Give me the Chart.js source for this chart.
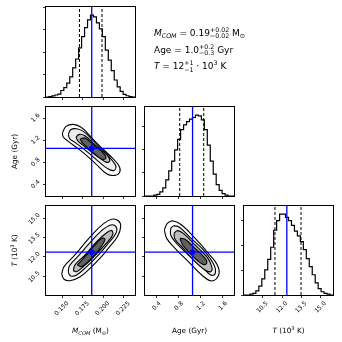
<!DOCTYPE html>
<html>
<head>
<meta charset="utf-8">
<script src="https://cdn.jsdelivr.net/npm/chart.js@4.4.1/dist/chart.umd.min.js"></script>
<style>
  html, body { margin: 0; background: #fff; }
  #wrap { position: relative; width: 342px; height: 342px; }
  #wrap canvas { position: absolute; left: 0; top: 0; }
</style>
</head>
<body>
<div id="wrap">
  <canvas id="h0" width="342" height="342"></canvas>
  <canvas id="ma" width="342" height="342"></canvas>
  <canvas id="h1" width="342" height="342"></canvas>
  <canvas id="mt" width="342" height="342"></canvas>
  <canvas id="at" width="342" height="342"></canvas>
  <canvas id="h2" width="342" height="342"></canvas>
</div>
<script>
// axis ranges
const massRange = [0.130, 0.239];
const ageRange = [0.19, 1.80];
const tempRange = [9.05, 15.95];

// tick values / labels
const massTicks = [0.150, 0.175, 0.200, 0.225];
const massTickLabels = ['0.150', '0.175', '0.200', '0.225'];
const ageTicks = [0.4, 0.8, 1.2, 1.6];
const ageTickLabels = ['0.4', '0.8', '1.2', '1.6'];
const tempTicks = [10.5, 12.0, 13.5, 15.0];
const tempTickLabels = ['10.5', '12.0', '13.5', '15.0'];
const countTicks = [0, 1000, 2000, 3000, 4000];

// 1D histograms (30 bins over the axis range)
const massCounts = [0, 15, 50, 90, 130, 290, 420, 620, 900, 1300, 1700, 2200, 2700, 3100, 3450,
  3660, 3580, 3320, 3050, 2700, 2100, 1650, 1180, 760, 450, 250, 120, 55, 20, 0];
const ageCounts = [0, 0, 0, 35, 69, 174, 347, 694, 1076, 1492, 1978, 2429, 2845, 3054, 3192,
  3297, 3366, 3470, 3435, 3262, 2845, 2186, 1492, 937, 486, 243, 104, 35, 0, 0];
const tempCounts = [0, 0, 32, 65, 162, 356, 648, 1004, 1426, 1912, 2592, 2981, 3240, 3240, 3110,
  2981, 2786, 2560, 2365, 2138, 1814, 1458, 1134, 810, 486, 259, 130, 65, 32, 0];

// 16% / 84% quantiles and true values
const massQuantiles = [0.171, 0.1986];
const ageQuantiles = [0.818, 1.252];
const tempQuantiles = [11.45, 13.47];
const massTruth = 0.186;
const ageTruth = 1.05;
const tempTruth = 12.37;

// 2D contours, outer to inner
const massAgeContours = [
  [[0.150,1.329],[0.1545,1.449],[0.1635,1.486],[0.1725,1.437],[0.1818,1.311],[0.194,1.118],[0.2084,0.918],[0.2186,0.756],[0.2206,0.635],[0.2145,0.563],[0.2043,0.593],[0.190,0.786],[0.1737,0.997],[0.1573,1.178],[0.1512,1.257]],
  [[0.1573,1.299],[0.1602,1.389],[0.1675,1.407],[0.1757,1.359],[0.1859,1.22],[0.1981,1.039],[0.2104,0.846],[0.2157,0.725],[0.2132,0.653],[0.2063,0.677],[0.1941,0.816],[0.1798,0.997],[0.1655,1.16],[0.1594,1.22]],
  [[0.1667,1.256],[0.1708,1.305],[0.1777,1.280],[0.19,1.118],[0.2043,0.937],[0.2083,0.834],[0.2043,0.798],[0.1941,0.894],[0.1798,1.057],[0.1696,1.178]],
  [[0.1716,1.22],[0.1777,1.238],[0.1879,1.118],[0.2002,0.967],[0.2034,0.876],[0.1981,0.858],[0.1859,0.997],[0.1749,1.148]]
];
const massTempContours = [
  [[0.1492,10.68],[0.1521,11.25],[0.1635,12.02],[0.1757,12.93],[0.188,13.83],[0.2002,14.56],[0.2104,14.92],[0.2186,14.81],[0.2215,14.35],[0.2174,13.57],[0.2063,12.67],[0.1962,11.9],[0.1839,11.12],[0.1708,10.42],[0.1594,10.16],[0.1521,10.27]],
  [[0.1573,10.78],[0.1586,11.30],[0.1696,12.08],[0.1839,13.11],[0.1981,14.04],[0.2092,14.48],[0.2157,14.35],[0.2157,13.83],[0.2063,13.06],[0.1941,12.15],[0.1798,11.25],[0.1675,10.60],[0.1602,10.53]],
  [[0.1635,10.94],[0.1655,11.38],[0.1777,12.15],[0.1920,13.19],[0.2043,13.88],[0.2104,14.04],[0.2116,13.70],[0.2022,12.93],[0.1879,11.97],[0.1757,11.25],[0.1675,10.86]],
  [[0.1684,11.38],[0.1777,12.02],[0.19,12.93],[0.1981,13.44],[0.2022,13.37],[0.1961,12.67],[0.1839,11.77],[0.1737,11.25]]
];
const ageTempContours = [
  [[0.54,14.09],[0.594,14.61],[0.703,14.79],[0.854,14.48],[1.095,13.45],[1.336,12.28],[1.499,11.38],[1.523,10.6],[1.397,10.14],[1.216,10.6],[0.974,11.64],[0.733,12.67],[0.582,13.44]],
  [[0.655,14.22],[0.703,14.40],[0.811,14.30],[1.004,13.52],[1.246,12.54],[1.439,11.38],[1.457,10.68],[1.379,10.60],[1.216,11.25],[0.944,12.28],[0.733,13.19],[0.655,13.70]],
  [[0.715,13.83],[0.775,14.04],[0.884,13.83],[1.095,12.93],[1.306,12.02],[1.397,11.25],[1.379,10.86],[1.276,10.99],[1.065,11.77],[0.854,12.80],[0.733,13.37]],
  [[0.823,13.44],[0.914,13.37],[1.095,12.67],[1.276,11.90],[1.306,11.51],[1.234,11.43],[1.065,12.02],[0.872,12.93]]
];
const contourFills = [null, '#ececec', '#bcbcbc', '#606060'];

// layout
const W = 342;
const colX = [[46, 135], [145, 234], [244, 333]];
const rowY = [[7, 97], [107, 196], [206, 295]];
const YW = 30, XH = 24;   // room reserved for tick labels
const FONT = 'DejaVu Sans';
const BLUE = '#0000ff';

function axis(range, ticks, labels, horizontal, labelOffset) {
  return {
    type: 'linear', min: range[0], max: range[1],
    afterBuildTicks: s => { s.ticks = ticks.filter(v => v <= range[1]).map(v => ({value: v})); },
    afterFit: s => {
      if (horizontal) s.height = XH; else s.width = YW;
      s.paddingLeft = s.paddingRight = s.paddingTop = s.paddingBottom = 0;
    },
    border: {display: false},
    grid: {drawOnChartArea: false, drawTicks: true, tickLength: 3, color: '#000', lineWidth: 0.8},
    ticks: {
      display: !!labels, autoSkip: false, minRotation: 45, maxRotation: 45,
      padding: horizontal ? 2 : 4, labelOffset: labelOffset || 0, color: '#000',
      font: {family: FONT, size: 6},
      callback: (v, i) => labels ? labels[i] : ''
    }
  };
}

const line = (data, color, width, extra) => Object.assign({
  data, showLine: true, pointRadius: 0, borderColor: color, borderWidth: width,
  fill: false, tension: 0
}, extra || {});

function histPoints(counts, range) {
  const w = (range[1] - range[0]) / counts.length;
  const pts = counts.map((c, i) => ({x: range[0] + i * w, y: c}));
  pts.push({x: range[1], y: counts[counts.length - 1]});
  return pts;
}

const vline = (x, yr, color, extra) => line([{x, y: yr[0]}, {x, y: yr[1]}], color, 1.3, extra);
const hline = (y, xr, color, extra) => line([{x: xr[0], y}, {x: xr[1], y}], color, 1.3, extra);

function histDatasets(counts, range, quant, truth, ymax) {
  return [
    line(histPoints(counts, range), '#000', 1.2, {stepped: 'before', order: 3}),
    vline(quant[0], [0, ymax], '#000', {borderWidth: 1, borderDash: [3, 2], order: 2}),
    vline(quant[1], [0, ymax], '#000', {borderWidth: 1, borderDash: [3, 2], order: 2}),
    vline(truth, [0, ymax], BLUE, {order: 1})
  ];
}

function contourDatasets(levels, xr, yr, xt, yt) {
  const sets = levels.map((pts, i) => {
    const data = pts.map(p => ({x: p[0], y: p[1]}));
    data.push(data[0]);
    return line(data, '#000', 1.1, {
      tension: 0.4, fill: contourFills[i] ? 'shape' : false,
      backgroundColor: contourFills[i] || 'transparent', order: 10 - i
    });
  });
  sets.push(vline(xt, yr, BLUE, {order: 1}));
  sets.push(hline(yt, xr, BLUE, {order: 1}));
  sets.push({data: [{x: xt, y: yt}], showLine: false, pointRadius: 2.8,
    pointBackgroundColor: BLUE, pointBorderWidth: 0, order: 0});
  return sets;
}

const frame = {
  id: 'frame',
  afterDatasetsDraw(chart) {
    const a = chart.chartArea, c = chart.ctx;
    c.save();
    c.strokeStyle = '#000';
    c.lineWidth = 1;
    c.strokeRect(Math.round(a.left) - 0.5, Math.round(a.top) - 0.5,
      Math.round(a.right - a.left) + 1, Math.round(a.bottom - a.top) + 1);
    c.restore();
  }
};

function drawRich(ctx, runs, x, y, size, align) {
  const small = size * 0.7;
  const font = (s, it) => (it ? 'italic ' : '') + s + 'px "' + FONT + '"';
  const widthOf = r => {
    if (r.pair) {
      ctx.font = font(small);
      return Math.max(ctx.measureText(r.pair[0]).width, ctx.measureText(r.pair[1]).width);
    }
    ctx.font = font(r.sub || r.sup ? small : size, r.it);
    return ctx.measureText(r.t).width;
  };
  const total = runs.reduce((s, r) => s + widthOf(r), 0);
  let cx = align === 'center' ? x - total / 2 : x;
  ctx.textAlign = 'left';
  ctx.textBaseline = 'alphabetic';
  ctx.fillStyle = '#000';
  for (const r of runs) {
    const w = widthOf(r);
    if (r.pair) {
      ctx.fillText(r.pair[0], cx, y - size * 0.42);
      ctx.fillText(r.pair[1], cx, y + size * 0.3);
    } else {
      ctx.fillText(r.t, cx, y + (r.sub ? size * 0.25 : r.sup ? -size * 0.4 : 0));
    }
    cx += w;
  }
}

const massLabel = [{t: 'M', it: true}, {t: 'COM', it: true, sub: true}, {t: ' (M'}, {t: '\u2299', sub: true}, {t: ')'}];
const ageLabel = [{t: 'Age (Gyr)'}];
const tempLabel = [{t: 'T', it: true}, {t: ' (10'}, {t: '3', sup: true}, {t: ' K)'}];

const labels = {
  id: 'labels',
  afterDraw(chart) {
    const c = chart.ctx;
    c.save();
    drawRich(c, [{t: 'M', it: true}, {t: 'COM', it: true, sub: true}, {t: ' = 0.19'},
      {pair: ['+0.02', '\u22120.02']}, {t: ' M'}, {t: '\u2299', sub: true}], 154, 35.5, 9, 'left');
    drawRich(c, [{t: 'Age = 1.0'}, {pair: ['+0.2', '\u22120.3']}, {t: ' Gyr'}], 154, 52.5, 9, 'left');
    drawRich(c, [{t: 'T', it: true}, {t: ' = 12'}, {pair: ['+1', '\u22121']}, {t: ' \u00b7 10'},
      {t: '3', sup: true}, {t: ' K'}], 154, 69, 9, 'left');
    const xl = [massLabel, ageLabel, tempLabel];
    xl.forEach((runs, i) => drawRich(c, runs, (colX[i][0] + colX[i][1]) / 2, 333, 7.3, 'center'));
    [[ageLabel, 1], [tempLabel, 2]].forEach(([runs, r]) => {
      c.save();
      c.translate(16.5, (rowY[r][0] + rowY[r][1]) / 2);
      c.rotate(-Math.PI / 2);
      drawRich(c, runs, 0, 0, 7.3, 'center');
      c.restore();
    });
    c.restore();
  }
};

function panel(id, col, row, xAxis, yAxis, datasets, extra) {
  const [l, r] = colX[col], [t, b] = rowY[row];
  return new Chart(document.getElementById(id), {
    type: 'scatter',
    data: {datasets},
    options: {
      responsive: false, animation: false, events: [],
      layout: {padding: {left: l - YW, right: W - r, top: t, bottom: W - b - XH}},
      plugins: {legend: {display: false}, tooltip: {enabled: false}},
      scales: {x: xAxis, y: yAxis}
    },
    plugins: [frame].concat(extra || [])
  });
}

const massMax = 1.1 * Math.max(...massCounts);
const ageMax = 1.1 * Math.max(...ageCounts);
const tempMax = 1.1 * Math.max(...tempCounts);

panel('h0', 0, 0, axis(massRange, massTicks, null, true), axis([0, massMax], countTicks, null, false),
  histDatasets(massCounts, massRange, massQuantiles, massTruth, massMax), [labels]);
panel('h1', 1, 1, axis(ageRange, ageTicks, null, true), axis([0, ageMax], countTicks, null, false),
  histDatasets(ageCounts, ageRange, ageQuantiles, ageTruth, ageMax));
panel('h2', 2, 2, axis(tempRange, tempTicks, tempTickLabels, true, 4.5), axis([0, tempMax], countTicks, null, false),
  histDatasets(tempCounts, tempRange, tempQuantiles, tempTruth, tempMax));

panel('ma', 0, 1, axis(massRange, massTicks, null, true), axis(ageRange, ageTicks, ageTickLabels, false, -3.5),
  contourDatasets(massAgeContours, massRange, ageRange, massTruth, ageTruth));
panel('mt', 0, 2, axis(massRange, massTicks, massTickLabels, true, 5.5), axis(tempRange, tempTicks, tempTickLabels, false, -4),
  contourDatasets(massTempContours, massRange, tempRange, massTruth, tempTruth));
panel('at', 1, 2, axis(ageRange, ageTicks, ageTickLabels, true, 3.5), axis(tempRange, tempTicks, null, false),
  contourDatasets(ageTempContours, ageRange, tempRange, ageTruth, tempTruth));
</script>
</body>
</html>
